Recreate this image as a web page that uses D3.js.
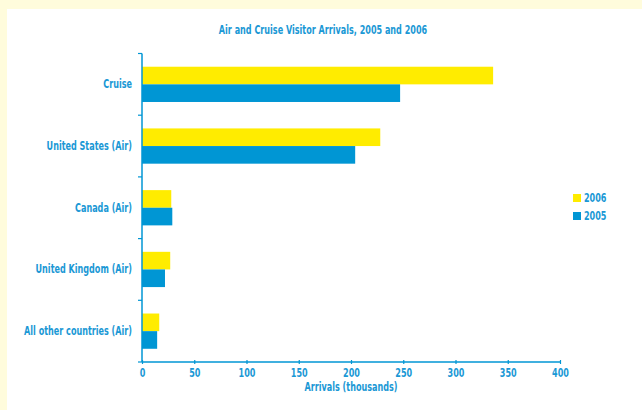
<!DOCTYPE html>
<html>
<head>
<meta charset="utf-8">
<script src="https://cdn.jsdelivr.net/npm/d3@7"></script>
<style>
  html, body { margin: 0; padding: 0; background: #ffffff; overflow: hidden; }
  svg { display: block; }
  text { font-family: "DejaVu Sans Condensed", "Liberation Sans Narrow", sans-serif; font-weight: bold; fill: #1a98d5; }
</style>
</head>
<body>
<svg id="chart" width="642" height="410"></svg>
<script>
const categories = ["Cruise", "United States (Air)", "Canada (Air)", "United Kingdom (Air)", "All other countries (Air)"];
const seriesNames = ["2006", "2005"];
const values2006 = [336, 228, 28, 27, 16.5];
const values2005 = [247, 204, 29, 22, 14.5];
const xTicks = [0, 50, 100, 150, 200, 250, 300, 350, 400];
const title = "Air and Cruise Visitor Arrivals, 2005 and 2006";
const xTitle = "Arrivals (thousands)";

const colors = { "2006": "#ffec00", "2005": "#0096d4" };
const axisColor = "#0096d4";
const squeeze = 0.78;

const svg = d3.select("#chart");
svg.append("rect").attr("x", 0).attr("y", 0).attr("width", 642).attr("height", 410).attr("fill", "#ffffff");
svg.append("rect").attr("x", 0).attr("y", 0).attr("width", 642).attr("height", 9).attr("fill", "#fffcdc");
svg.append("rect").attr("x", 0).attr("y", 0).attr("width", 7).attr("height", 410).attr("fill", "#fffcdc");

const margin = { left: 142, right: 560, top: 53.5, bottom: 362 };
const x = d3.scaleLinear().domain([0, 400]).range([margin.left, margin.right]);
const y = d3.scaleBand().domain(categories).range([margin.top, margin.bottom]).paddingInner(0).paddingOuter(0);
const inner = d3.scaleBand().domain(seriesNames).range([0, y.bandwidth()]).paddingInner(0).paddingOuter(0.75);

const data = categories.map((c, i) => ({ cat: c, "2006": values2006[i], "2005": values2005[i] }));

const groups = svg.append("g").selectAll("g").data(data).join("g")
  .attr("transform", d => `translate(0,${y(d.cat)})`);
groups.selectAll("rect").data(d => seriesNames.map(s => ({ s, v: d[s] }))).join("rect")
  .attr("x", x(0))
  .attr("y", d => inner(d.s))
  .attr("width", d => x(d.v) - x(0))
  .attr("height", inner.bandwidth())
  .attr("fill", d => colors[d.s]);

// x axis
const xAxis = svg.append("g").attr("transform", `translate(0,${margin.bottom})`)
  .call(d3.axisBottom(x).tickValues(xTicks).tickSize(4).tickPadding(2));
xAxis.attr("font-family", null).attr("font-size", null);
xAxis.select(".domain").attr("stroke", axisColor).attr("stroke-width", 1.5).attr("d", `M${x(0)},0H${x(400)}`);
xAxis.selectAll(".tick line").attr("stroke", axisColor).attr("stroke-width", 1.2).attr("y1", -2).attr("y2", 2);
xAxis.selectAll(".tick text").attr("font-size", 11.5).attr("dy", "0.75em").attr("y", 6).attr("fill", null);

// y axis
const boundaries = categories.map(c => y(c)).concat([margin.bottom]);
svg.append("line").attr("x1", x(0)).attr("x2", x(0)).attr("y1", margin.top).attr("y2", margin.bottom)
  .attr("stroke", axisColor).attr("stroke-width", 1.5);
svg.append("g").selectAll("line").data(boundaries).join("line")
  .attr("x1", x(0) - 4).attr("x2", x(0)).attr("y1", d => d).attr("y2", d => d)
  .attr("stroke", axisColor).attr("stroke-width", 1.2);
svg.append("g").selectAll("text").data(categories).join("text")
  .attr("x", 132).attr("y", d => y(d) + y.bandwidth() / 2).attr("dy", "0.35em")
  .attr("text-anchor", "end").attr("font-size", 11.5).text(d => d);

// titles
svg.append("text").attr("x", 323).attr("y", 30).attr("dy", "0.35em").attr("text-anchor", "middle")
  .attr("font-size", 11.5).text(title);
svg.append("text").attr("x", x(200)).attr("y", 386.5).attr("dy", "0.35em").attr("text-anchor", "middle")
  .attr("font-size", 11.5).text(xTitle);

// legend
const legend = svg.append("g").selectAll("g").data(seriesNames).join("g")
  .attr("transform", (d, i) => `translate(573,${198 + i * 18})`);
legend.append("rect").attr("x", 0).attr("y", -4).attr("width", 8).attr("height", 8).attr("fill", d => colors[d]);
legend.append("text").attr("x", 11).attr("y", 0).attr("dy", "0.35em").attr("font-size", 11.5).text(d => d);

// condense all text horizontally to mimic the condensed face
svg.selectAll("text").each(function () {
  const w = this.getComputedTextLength();
  d3.select(this).attr("textLength", w * squeeze).attr("lengthAdjust", "spacingAndGlyphs");
});
</script>
</body>
</html>
